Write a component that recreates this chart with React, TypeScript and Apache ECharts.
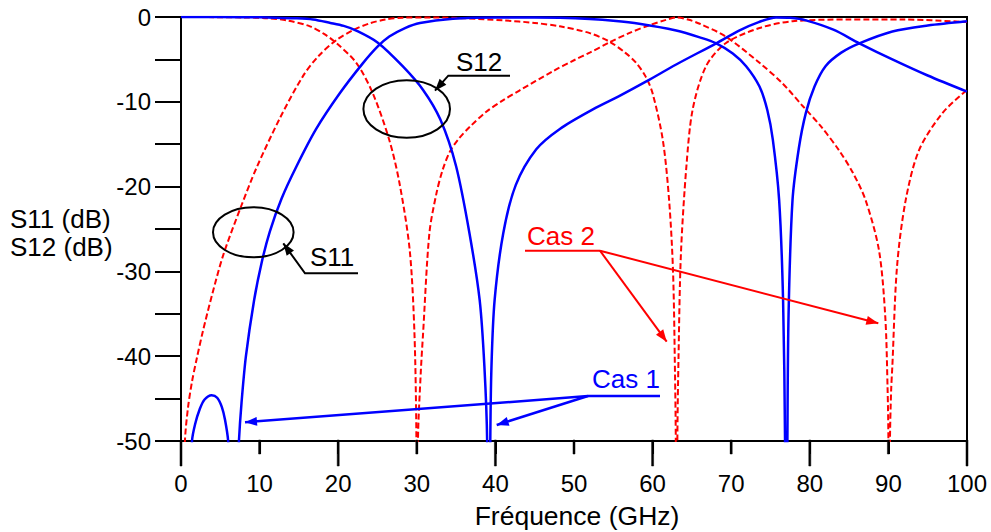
import React, { useEffect, useRef } from "react";
import * as echarts from "echarts";

// Frequency (GHz) vs level (dB)
const cas1S11: [number, number][] = [
  [0, -80], [0.8, -62], [1.4, -50], [1.8, -48.0], [2.4, -46.2], [3.0, -45.1], [3.9, -44.6],
  [4.6, -44.9], [5.2, -46.0], [5.6, -47.5], [6.0, -50], [6.4, -57], [6.7, -80], [7.0, -58],
  [7.37, -50], [7.7, -45.5], [8.26, -40], [9.3, -33.4], [10.25, -29.0], [11.3, -25.3],
  [12.8, -21.4], [14.7, -17.6], [17.2, -13.2], [20.2, -9.0], [23.1, -5.5], [25.0, -3.5],
  [26.5, -2.3], [28.5, -1.3], [30.4, -0.7], [34.6, -0.2], [40, -0.05], [45, -0.05],
  [48.2, -0.1], [52, -0.25], [55, -0.45], [58.3, -0.8], [63, -1.6], [66, -2.4], [68.1, -3.1],
  [70.2, -4.3], [71.9, -5.8], [73.6, -8.2], [74.6, -11.0], [75.3, -14.5], [76.1, -21.6],
  [76.6, -33.4], [76.85, -50], [77.0, -80], [77.15, -50], [77.3, -35], [77.8, -21.6],
  [78.6, -15.5], [79.5, -11.3], [80.6, -8.2], [82, -5.8], [84, -4.2], [86.3, -3.1],
  [90.5, -1.7], [95, -1.0], [100, -0.5],
];

const cas1S12: [number, number][] = [
  [0, 0], [8, -0.02], [12, -0.08], [14.5, -0.15], [16.8, -0.3], [19, -0.7], [20.7, -1.05],
  [22.3, -1.6], [25, -3.0], [28.2, -5.8], [30.8, -8.6], [33, -12.1], [35, -17.6],
  [36.7, -25.5], [38, -33.4], [38.6, -41.2], [38.95, -50], [39.15, -80], [39.35, -50],
  [39.5, -41.2], [39.9, -33.4], [41.0, -25.5], [42.6, -19.8], [45.2, -15.6], [48.2, -13.2],
  [52.4, -10.9], [55.8, -9.3], [59.2, -7.6], [63, -5.6], [68.1, -3.1], [71, -1.6],
  [73.5, -0.6], [75.7, -0.05], [77.5, -0.1], [79.5, -0.4], [83, -1.5], [86.3, -3.1],
  [90.5, -5.0], [95, -6.9], [100, -8.8],
];

const cas2S11: [number, number][] = [
  [0, -80], [0.3, -60], [0.5, -50], [0.9, -46], [1.4, -43], [2.0, -40.3], [2.8, -37.0],
  [4.0, -32.6], [5.4, -28.0], [7.7, -22.2], [9.6, -17.8], [12.6, -11.9], [15.5, -7.0],
  [17.5, -4.6], [19.8, -2.7], [22, -1.5], [24, -0.75], [26, -0.3], [28.2, -0.08], [32, -0.05],
  [36, -0.15], [41, -0.4], [45, -0.7], [48.2, -1.1], [52, -1.9], [54.5, -2.9], [56.5, -4.2],
  [57.9, -5.4], [59.1, -7.0], [60, -9.0], [61.3, -14.5], [62.1, -21.6], [62.6, -30],
  [62.85, -42], [62.95, -50], [63.05, -80], [63.15, -50], [63.3, -40], [63.6, -28],
  [64.3, -17.6], [65.1, -10.9], [66.8, -5.8], [69.3, -3.1], [73.6, -1.3], [77.8, -0.5],
  [85, -0.3], [92, -0.3], [100, -0.6],
];

const cas2S12: [number, number][] = [
  [0, 0], [8, -0.05], [11, -0.15], [13.5, -0.4], [16.4, -1.1], [18.2, -2.0], [19.8, -3.1],
  [22.3, -5.4], [24.4, -9.0], [26.5, -14.5], [27.8, -19.6], [29.1, -27.5], [29.7, -37.3],
  [29.95, -50], [30.05, -80], [30.15, -50], [30.5, -42], [30.8, -37.3], [31.6, -25.5],
  [32.5, -20.8], [33.3, -18.0], [34.2, -15.9], [35.3, -14.4], [36.8, -12.9], [38.8, -11.2],
  [41, -9.8], [43, -8.7], [47.3, -6.4], [50, -5.1], [52, -4.2], [54.5, -3.0], [57, -1.9],
  [59.5, -1.0], [61.5, -0.4], [63, -0.05], [64.5, -0.3], [66, -0.8], [69.3, -2.3],
  [73.6, -5.4], [76.5, -7.8], [79.1, -10.5], [81.5, -13], [83.7, -15.7], [85.5, -18.4],
  [87.1, -21.6], [88.8, -27.5], [89.6, -35.3], [89.9, -44], [90.0, -50], [90.1, -80],
  [90.2, -50], [90.35, -44], [90.5, -41.2], [91.1, -29.4], [92.2, -21.6], [93.9, -15.7],
  [96.9, -11.3], [100, -8.6],
];

const xRange = [0, 100];
const yRange = [-50, 0];
const xTickValues = [0, 10, 20, 30, 40, 50, 60, 70, 80, 90, 100];
const yAxisTitle = ["S11 (dB)", "S12 (dB)"];
const xAxisTitle = "Fréquence (GHz)";

const FONT = '"Liberation Sans", Arial, Helvetica, sans-serif';
const BLUE = "#0000ff";
const RED = "#ff0000";
const W = 991;
const H = 532;

function arrowHead(x1: number, y1: number, x2: number, y2: number, color: string) {
  const dx = x2 - x1;
  const dy = y2 - y1;
  const len = Math.hypot(dx, dy);
  const ux = dx / len;
  const uy = dy / len;
  const L = 12;
  const hw = 4.5;
  const bx = x2 - ux * L;
  const by = y2 - uy * L;
  return {
    type: "polygon",
    z: 100,
    shape: { points: [[x2, y2], [bx - uy * hw, by + ux * hw], [bx + uy * hw, by - ux * hw]] },
    style: { fill: color },
  };
}

function seg(points: number[][], color: string, width: number) {
  return {
    type: "polyline",
    z: 100,
    shape: { points },
    style: { stroke: color, lineWidth: width, fill: "none" },
  };
}

function label(text: string, x: number, y: number, color: string, size = 26, align = "left") {
  return {
    type: "text",
    z: 100,
    style: {
      text,
      x,
      y,
      fill: color,
      font: `${size}px ${FONT}`,
      textAlign: align,
      textVerticalAlign: "middle",
    },
  };
}

export default function App() {
  const ref = useRef<HTMLDivElement>(null);

  useEffect(() => {
    if (!ref.current) return;
    const chart = echarts.init(ref.current, null, { renderer: "svg", width: W, height: H });

    const axisLineStyle = { color: "#000", width: 2 };
    const grid = { left: 181, right: 24, top: 17, bottom: 91 };

    // x-axis tick marks along the axis scale (long every 20, short in between)
    const plotW = W - grid.left - grid.right;
    const axisY = H - grid.bottom;
    const ticks = xTickValues.map((v) => {
      const px = grid.left + ((v - xRange[0]) / (xRange[1] - xRange[0])) * plotW;
      const len = v % 20 === 0 ? 25 : 13;
      return {
        type: "rect",
        z: 200,
        zlevel: 1,
        shape: { x: px - 1, y: axisY - 1, width: 2, height: len + 1 },
        style: { fill: "#000", stroke: "#000", lineWidth: 0.5 },
      };
    });

    const graphic: any[] = [
      label(yAxisTitle[0], 10, 219, "#000", 26),
      label(yAxisTitle[1], 10, 247, "#000", 26),
      label(xAxisTitle, 577, 516, "#000", 26.5, "center"),
      // S11 annotation
      { type: "ellipse", z: 100, shape: { cx: 253.3, cy: 232.3, rx: 40.3, ry: 25 }, style: { fill: "none", stroke: "#000", lineWidth: 2 } },
      label("S11", 310, 257, "#000"),
      seg([[358, 273.3], [305, 273.3], [283.3, 243.3]], "#000", 2),
      arrowHead(305, 273.3, 283.3, 243.3, "#000"),
      // S12 annotation
      { type: "ellipse", z: 100, shape: { cx: 406.7, cy: 109, rx: 43.3, ry: 28.8 }, style: { fill: "none", stroke: "#000", lineWidth: 2 } },
      label("S12", 456, 62, "#000"),
      seg([[510, 75.7], [448.3, 75.7], [435, 90.7]], "#000", 2),
      arrowHead(448.3, 75.7, 435, 90.7, "#000"),
      // Cas 2
      label("Cas 2", 527, 236, RED),
      seg([[525, 250.7], [600, 250.7]], RED, 2),
      seg([[600, 250.7], [666.7, 341.7]], RED, 2),
      seg([[600, 250.7], [878.3, 323.3]], RED, 2),
      arrowHead(600, 250.7, 666.7, 341.7, RED),
      arrowHead(600, 250.7, 878.3, 323.3, RED),
      // Cas 1
      label("Cas 1", 592, 379, BLUE),
      seg([[588, 396], [660, 396]], BLUE, 2.5),
      seg([[588, 396], [245, 422.3]], BLUE, 2.5),
      seg([[588, 396], [496.7, 425]], BLUE, 2.5),
      arrowHead(588, 396, 245, 422.3, BLUE),
      arrowHead(588, 396, 496.7, 425, BLUE),
      ...ticks,
    ];

    const solid = (data: [number, number][]) => ({
      type: "line",
      data,
      showSymbol: false,
      symbol: "none",
      smooth: 0.3,
      clip: true,
      lineStyle: { color: BLUE, width: 2.5, type: "solid" },
      z: 3,
    });
    const dashed = (data: [number, number][]) => ({
      type: "line",
      data,
      showSymbol: false,
      symbol: "none",
      smooth: 0.3,
      clip: true,
      lineStyle: { color: RED, width: 2, type: [6, 3] },
      z: 2,
    });

    chart.setOption({
      animation: false,
      backgroundColor: "#fff",
      grid: {
        ...grid,
        show: true,
        borderColor: "#000",
        borderWidth: 2,
        backgroundColor: "transparent",
      },
      xAxis: {
        type: "value",
        min: xRange[0],
        max: xRange[1],
        interval: 10,
        position: "bottom",
        axisLine: { show: true, onZero: false, lineStyle: axisLineStyle },
        axisTick: { show: true, inside: false, length: 13, lineStyle: axisLineStyle },
        axisLabel: { margin: 30, fontSize: 24, color: "#000", fontFamily: FONT },
        splitLine: { show: false },
      },
      yAxis: {
        type: "value",
        min: yRange[0],
        max: yRange[1],
        interval: 5,
        axisLine: { show: true, onZero: false, lineStyle: axisLineStyle },
        axisTick: { show: true, length: 26, lineStyle: axisLineStyle },
        axisLabel: {
          margin: 30,
          fontSize: 24,
          color: "#000",
          fontFamily: FONT,
          formatter: (v: number) => (Math.round(v) % 10 === 0 ? String(v) : ""),
        },
        splitLine: { show: false },
      },
      series: [
        dashed(cas2S11),
        dashed(cas2S12),
        solid(cas1S11),
        solid(cas1S12),
      ],
      graphic,
    });

    return () => chart.dispose();
  }, []);

  return (
    <div
      ref={ref}
      style={{ position: "fixed", left: 0, top: 0, width: W, height: H, background: "#fff" }}
    />
  );
}
